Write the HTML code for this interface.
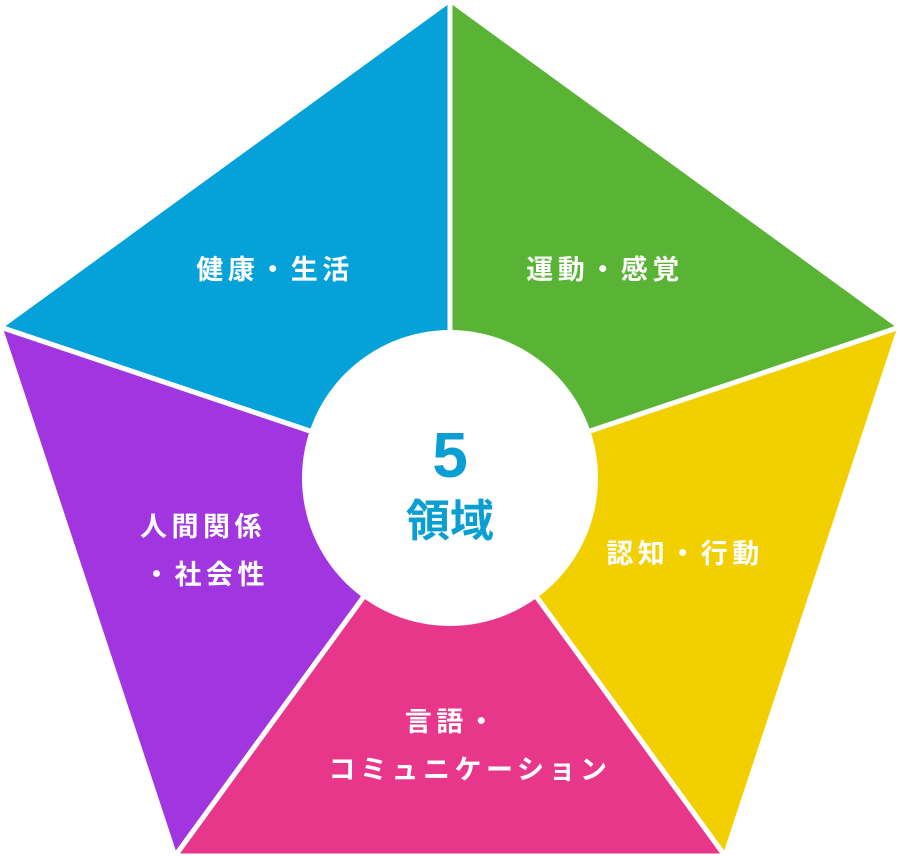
<!DOCTYPE html>
<html><head><meta charset="utf-8"><style>
html,body{margin:0;padding:0;background:#fff;width:900px;height:856px;overflow:hidden}
svg{display:block}
text{font-family:"Liberation Sans","Noto Sans CJK JP",sans-serif;font-weight:bold;fill:#fff;font-size:27px;letter-spacing:4.5px;text-anchor:middle}
</style></head><body>
<svg width="900" height="856" viewBox="0 0 900 856">
<g stroke="#fff" stroke-width="5" stroke-linejoin="round">
<polygon points="450,478 450,0 0,327" fill="#04a2d8"/>
<polygon points="450,478 450,0 900,327" fill="#59b334"/>
<polygon points="450,478 900,327 725,856" fill="#f2d000"/>
<polygon points="450,478 725,856 175,856" fill="#e8378b"/>
<polygon points="450,478 175,856 0,327" fill="#a136e0"/>
</g>
<circle cx="450" cy="478" r="148" fill="#fff"/>
<text x="275" y="279">健康・生活</text>
<text x="605" y="279">運動・感覚</text>
<text x="685" y="563">認知・行動</text>
<text x="203" y="536">人間関係</text>
<text x="206" y="584">・社会性</text>
<text x="452" y="731">言語・</text>
<text x="470" y="779">コミュニケーション</text>
<text x="450" y="477" style="fill:#0a9fd3;font-size:64px;letter-spacing:0">5</text>
<text x="450" y="536" style="fill:#0a9fd3;font-size:44px;letter-spacing:0">領域</text>
</svg>
</body></html>
